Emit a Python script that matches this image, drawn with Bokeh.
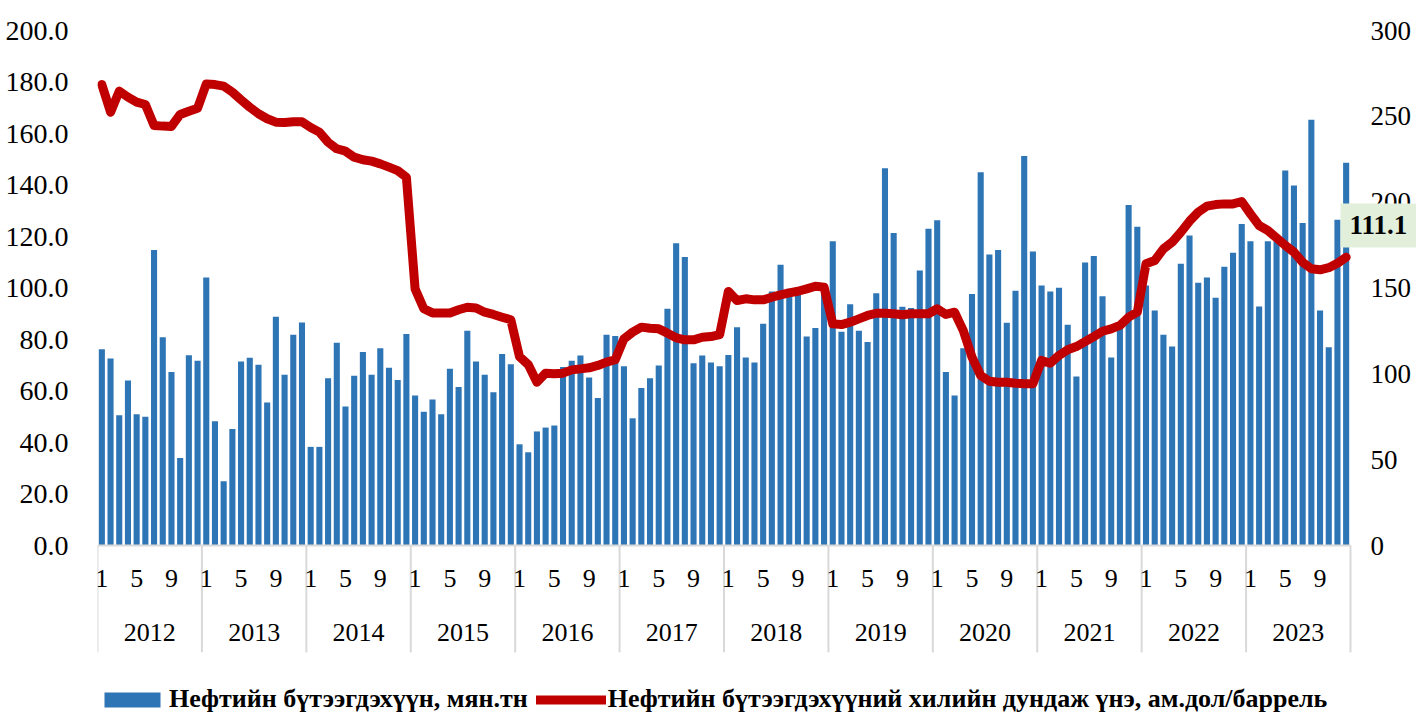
from bokeh.plotting import figure
from bokeh.models import (Range1d, LinearAxis, FixedTicker, NumeralTickFormatter,
                          Legend, LegendItem, ColumnDataSource)
from bokeh.core.properties import value
from bokeh.embed import file_html
from bokeh.resources import INLINE

years = [2012, 2013, 2014, 2015, 2016, 2017, 2018, 2019, 2020, 2021, 2022, 2023]
month_labels = [1, 5, 9]

production = [
    76.2, 72.6, 50.6, 64.1, 51.0, 50.0, 114.8, 80.9, 67.4, 34.0, 73.9, 71.7,
    104.1, 48.3, 25.0, 45.2, 71.5, 72.9, 70.2, 55.5, 88.8, 66.3, 81.8, 86.6,
    38.3, 38.3, 65.0, 78.7, 54.0, 65.9, 75.1, 66.3, 76.6, 69.0, 64.3, 82.1,
    58.3, 51.9, 56.7, 51.0, 68.6, 61.6, 83.4, 71.5, 66.3, 59.5, 74.4, 70.4,
    39.3, 36.2, 44.3, 45.8, 46.6, 69.3, 71.7, 73.8, 65.2, 57.3, 81.8, 81.4,
    69.6, 49.4, 61.2, 65.0, 69.9, 91.9, 117.4, 112.0, 70.8, 73.8, 71.1, 69.6,
    74.0, 84.8, 73.0, 71.1, 86.1, 98.6, 109.0, 99.7, 99.5, 81.2, 84.5, 100.0,
    118.2, 83.0, 93.7, 83.4, 79.0, 98.0, 146.5, 121.4, 92.7, 92.2, 106.8, 123.0,
    126.3, 67.4, 58.3, 76.6, 97.7, 145.0, 113.0, 114.8, 86.5, 98.9, 151.3, 114.2,
    101.0, 98.6, 100.1, 85.7, 65.6, 109.9, 112.4, 96.8, 73.0, 85.0, 132.2, 123.8,
    101.0, 91.3, 81.8, 77.3, 109.4, 120.4, 102.0, 104.1, 96.2, 108.3, 113.7, 124.9,
    118.2, 92.8, 118.2, 118.2, 145.6, 139.8, 125.2, 165.3, 91.3, 77.0, 126.5, 148.6,
]

price = [
    268.5, 252.4, 264.7, 261.2, 258.3, 256.9, 244.7, 244.3, 244.1, 251.1, 253.0, 254.7,
    268.9, 268.5, 267.6, 264.1, 259.6, 255.3, 251.5, 248.6, 246.6, 246.4, 246.8, 246.8,
    243.5, 240.8, 234.9, 231.1, 229.7, 226.2, 224.7, 223.9, 222.3, 220.4, 218.4, 214.5,
    149.5, 137.9, 135.5, 135.5, 135.5, 137.3, 138.8, 138.4, 135.9, 134.6, 133.0, 131.5,
    110.0, 105.4, 95.1, 100.4, 100.0, 100.4, 102.3, 102.9, 103.5, 104.9, 106.8, 108.2,
    120.4, 124.3, 127.2, 126.6, 126.2, 123.7, 121.0, 119.8, 119.8, 121.3, 121.7, 122.9,
    148.0, 142.7, 143.7, 143.1, 143.1, 144.6, 146.0, 147.2, 148.1, 149.5, 151.0, 150.5,
    129.1, 128.7, 130.1, 132.0, 134.0, 135.3, 135.3, 135.0, 134.4, 135.0, 135.0, 135.0,
    137.9, 134.6, 135.9, 125.2, 109.7, 99.0, 95.7, 95.1, 95.1, 94.5, 94.2, 94.2,
    107.8, 106.2, 110.7, 114.0, 115.9, 118.8, 121.7, 124.8, 126.2, 128.2, 133.0, 135.9,
    164.1, 166.0, 172.8, 176.7, 182.5, 188.9, 194.2, 197.7, 198.6, 199.0, 199.0, 200.4,
    193.2, 186.4, 183.5, 179.2, 174.8, 170.9, 165.0, 161.2, 160.6, 161.8, 164.4, 167.9,
]

left_ticks = [0, 20, 40, 60, 80, 100, 120, 140, 160, 180, 200]
right_ticks = [0, 50, 100, 150, 200, 250, 300]

series_names = ["Нефтийн бүтээгдэхүүн, мян.тн",
                "Нефтийн бүтээгдэхүүний хилийн дундаж үнэ, ам.дол/баррель"]
callout_text = "111.1"

FONT = "Liberation Serif"
BLUE = "#2E75B6"
RED = "#C00000"
GRAY = "#D9D9D9"

W, H = 1416, 716
n = len(production)
xs = [i + 0.5 for i in range(n)]

# frame spans from the left axis to the right/top/bottom canvas edges; the
# category labels, right-hand scale labels and callout are drawn inside it
px_per_month = 1253 / n
x_end = (W - 97) / px_per_month
px_per_unit = 515 / 200
y_top = 200 + 30 / px_per_unit
y_bottom = -(H - 545) / px_per_unit

p = figure(width=W, height=H, output_backend="svg", toolbar_location=None,
           x_range=Range1d(0, x_end), y_range=Range1d(y_bottom, y_top),
           x_axis_location=None, y_axis_location=None,
           min_border_left=97, min_border_right=0, min_border_top=0,
           min_border_bottom=0)
p.extra_y_ranges = {"price": Range1d(y_bottom * 1.5, y_top * 1.5)}
p.outline_line_color = None
p.grid.grid_line_color = None

left = LinearAxis(ticker=FixedTicker(ticks=left_ticks),
                  formatter=NumeralTickFormatter(format="0.0"))
left.axis_line_color = None
left.major_tick_line_color = None
left.minor_tick_line_color = None
left.major_label_text_font = FONT
left.major_label_text_font_size = "28px"
left.major_label_text_color = "black"
left.major_label_standoff = 23
p.add_layout(left, "left")

src = ColumnDataSource(dict(x=xs, prod=production, price=price))
bars = p.vbar(x="x", top="prod", width=0.7, source=src, fill_color=BLUE, line_color=None)
line = p.line(x="x", y="price", source=src, y_range_name="price", line_color=RED,
              line_width=9, line_join="round", line_cap="round")

# right-hand scale (price)
rx = n + 20 / px_per_month
p.text(x=[rx] * len(right_ticks), y=right_ticks, text=[str(t) for t in right_ticks],
       y_range_name="price", text_font=value(FONT), text_font_size="27px",
       text_align="left", text_baseline="middle", text_color="black")

# category axis: baseline, year separators, month and year labels
p.segment(x0=[0], y0=[0], x1=[n], y1=[0], line_color=GRAY, line_width=2)
bounds = [12 * k for k in range(len(years) + 1)]
p.segment(x0=bounds, y0=[0] * len(bounds), x1=bounds, y1=[-41.5] * len(bounds),
          line_color=GRAY, line_width=2)
mx, mt = [], []
for k, _ in enumerate(years):
    for m in month_labels:
        mx.append(12 * k + m - 0.5)
        mt.append(str(m))
p.text(x=mx, y=[-12.8] * len(mx), text=mt, text_font=value(FONT), text_font_size="26px",
       text_align="center", text_baseline="middle", text_color="black")
p.text(x=[12 * k + 6 for k in range(len(years))], y=[-33.8] * len(years),
       text=[str(y) for y in years], text_font=value(FONT), text_font_size="26px",
       text_align="center", text_baseline="middle", text_color="black")

# callout box with the highlighted value
p.quad(left=[(1340 - 97) / px_per_month], right=[x_end], top=[132.8], bottom=[115.7],
       fill_color="#E2EFDA", line_color=None)
p.text(x=[(1349 - 97) / px_per_month], y=[124.3], text=[callout_text],
       text_font=value(FONT), text_font_style="bold", text_font_size="27px",
       text_align="left", text_baseline="middle", text_color="black")

legend = Legend(items=[LegendItem(label=series_names[0], renderers=[bars]),
                       LegendItem(label=series_names[1], renderers=[line])],
                location=(0, 2), orientation="horizontal",
                glyph_width=70, glyph_height=19, label_standoff=2, spacing=8,
                padding=0, margin=0, border_line_color=None,
                background_fill_alpha=0,
                label_text_font=FONT, label_text_font_style="bold",
                label_text_font_size="26px", label_text_color="black")
p.add_layout(legend)

open("out.html", "w").write(file_html(p, INLINE))
